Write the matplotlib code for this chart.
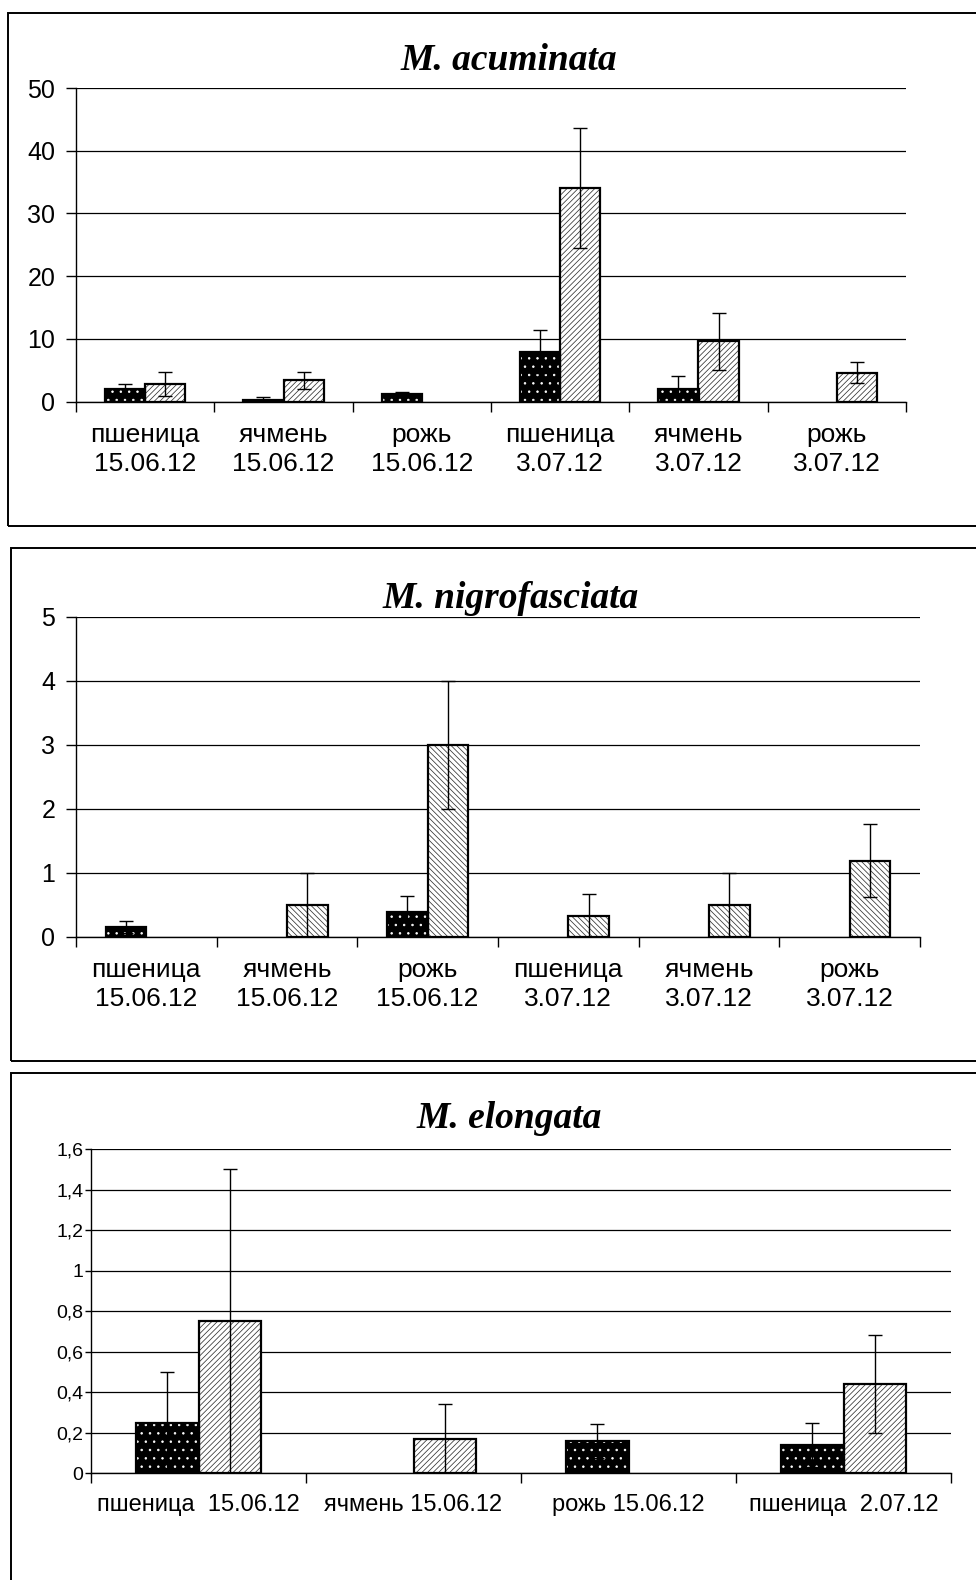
import numpy as np
import matplotlib
matplotlib.use("Agg")
import matplotlib.pyplot as plt
from matplotlib.patches import Rectangle

# ---------------- data ----------------
titles = ["M. acuminata", "M. nigrofasciata", "M. elongata"]

cats1 = ["пшеница\n15.06.12", "ячмень\n15.06.12", "рожь\n15.06.12",
         "пшеница\n3.07.12", "ячмень\n3.07.12", "рожь\n3.07.12"]
dark1 = [2.0, 0.2, 1.2, 8.0, 2.0, np.nan]
dark1_err = [0.9, 0.6, 0.3, 3.4, 2.1, np.nan]
hatch1 = [2.8, 3.4, np.nan, 34.1, 9.6, 4.6]
hatch1_err = [1.9, 1.3, np.nan, 9.6, 4.5, 1.65]
yticks1 = [0, 10, 20, 30, 40, 50]

cats2 = ["пшеница\n15.06.12", "ячмень\n15.06.12", "рожь\n15.06.12",
         "пшеница\n3.07.12", "ячмень\n3.07.12", "рожь\n3.07.12"]
dark2 = [0.15, np.nan, 0.39, np.nan, np.nan, np.nan]
dark2_err = [0.1, np.nan, 0.25, np.nan, np.nan, np.nan]
hatch2 = [np.nan, 0.5, 3.0, 0.33, 0.5, 1.19]
hatch2_err = [np.nan, 0.5, 1.0, 0.33, 0.5, 0.57]
yticks2 = [0, 1, 2, 3, 4, 5]

cats3 = ["пшеница  15.06.12", "ячмень 15.06.12", "рожь 15.06.12", "пшеница  2.07.12"]
dark3 = [0.25, np.nan, 0.16, 0.14]
dark3_err = [0.25, np.nan, 0.085, 0.11]
hatch3 = [0.75, 0.17, np.nan, 0.44]
hatch3_err = [0.75, 0.17, np.nan, 0.24]
yticks3 = [0, 0.2, 0.4, 0.6, 0.8, 1.0, 1.2, 1.4, 1.6]
yticklabels3 = ["0", "0,2", "0,4", "0,6", "0,8", "1", "1,2", "1,4", "1,6"]

# ---------------- layout ----------------
W, H = 976, 1580
fig = plt.figure(figsize=(W / 100, H / 100), dpi=100)
plt.rcParams['hatch.linewidth'] = 0.55

sans = ["Liberation Sans", "DejaVu Sans"]
serif = ["Liberation Serif", "DejaVu Serif"]


def px_axes(left, right, y0, ytop):
    return fig.add_axes([left / W, 1 - y0 / H, (right - left) / W, (y0 - ytop) / H])


def frame(x0, y0, x1, y1):
    r = Rectangle((x0 / W, 1 - y1 / H), (x1 - x0) / W, (y1 - y0) / H,
                  transform=fig.transFigure, fill=False, edgecolor="black",
                  linewidth=1.4, zorder=0)
    fig.patches.append(r)


frame(8, 13, 1000, 526)
frame(11, 548, 1000, 1061)
frame(11, 1073, 1000, 1700)


def panel(ax, cats, dark, dark_err, hat, hat_err, ymax, yticks, yticklabels,
          hatch_pat, bw, tick_fs, xfs, ylab_pad, ytick_len, xlab_pad, capsize,
          lsp):
    n = len(cats)
    x = np.arange(n) + 0.5
    dark = np.array(dark, float)
    hat = np.array(hat, float)
    de = np.array(dark_err, float)
    he = np.array(hat_err, float)
    xd = x - bw / 2
    xh = x + bw / 2
    # dark bars: black with white dots
    ax.bar(xd, dark, bw, color="black", edgecolor="white", hatch="..",
           linewidth=0, zorder=3)
    ax.bar(xd, dark, bw, fill=False, edgecolor="black", linewidth=1.6, zorder=4)
    # hatched bars
    ax.bar(xh, hat, bw, color="white", edgecolor="#333333", hatch=hatch_pat,
           linewidth=0, zorder=3)
    ax.bar(xh, hat, bw, fill=False, edgecolor="black", linewidth=1.6, zorder=4)
    # error bars
    for xs, v, e in ((xd, dark, de), (xh, hat, he)):
        lo = np.minimum(e, v)
        ax.errorbar(xs, v, yerr=[lo, e], fmt="none", ecolor="black",
                    elinewidth=1.0, capsize=capsize, capthick=1.0, zorder=5)
    ax.set_xlim(0, n)
    ax.set_ylim(0, ymax)
    ax.set_yticks(yticks)
    ax.set_yticklabels(yticklabels, fontfamily=sans, fontsize=tick_fs)
    ax.yaxis.grid(True, color="black", linewidth=0.9, zorder=0)
    ax.set_axisbelow(True)
    ax.set_xticks(np.arange(n + 1))
    ax.set_xticklabels([""] * (n + 1))
    ax.set_xticks(x, minor=True)
    ax.set_xticklabels(cats, minor=True, fontfamily=sans, fontsize=xfs,
                       linespacing=lsp)
    ax.tick_params(axis="x", which="major", length=7, width=1.0, direction="out")
    ax.tick_params(axis="x", which="minor", length=0, pad=xlab_pad)
    ax.tick_params(axis="y", length=ytick_len, width=1.0, pad=ylab_pad)
    for s in ("top", "right"):
        ax.spines[s].set_visible(False)
    ax.spines["left"].set_linewidth(1.0)
    ax.spines["bottom"].set_linewidth(1.0)
    ax.set_facecolor("none")


ax1 = px_axes(76, 906, 401.7, 88)
panel(ax1, cats1, dark1, dark1_err, hatch1, hatch1_err, 50, yticks1,
      [str(v) for v in yticks1], "//////", 0.29, 18, 19, 8, 7, 15, 5, 1.3)

ax2 = px_axes(76, 920, 936.7, 616.7)
panel(ax2, cats2, dark2, dark2_err, hatch2, hatch2_err, 5, yticks2,
      [str(v) for v in yticks2], "\\\\\\\\\\\\", 0.29, 18, 19, 8, 7, 15, 5, 1.3)

ax3 = px_axes(91, 951, 1473.3, 1149)
panel(ax3, cats3, dark3, dark3_err, hatch3, hatch3_err, 1.6, yticks3,
      yticklabels3, "//////", 0.29, 14, 17, 1.5, 4, 15, 5, 1.2)

fig.text(509 / W, 1 - 61 / H, titles[0], ha="center", va="center",
         fontfamily=serif, fontsize=27, fontweight="bold", fontstyle="italic")
fig.text(511 / W, 1 - 599 / H, titles[1], ha="center", va="center",
         fontfamily=serif, fontsize=27, fontweight="bold", fontstyle="italic")
fig.text(509 / W, 1 - 1118 / H, titles[2], ha="center", va="center",
         fontfamily=serif, fontsize=27, fontweight="bold", fontstyle="italic")

fig.savefig("out.png", dpi=100, facecolor="white")
